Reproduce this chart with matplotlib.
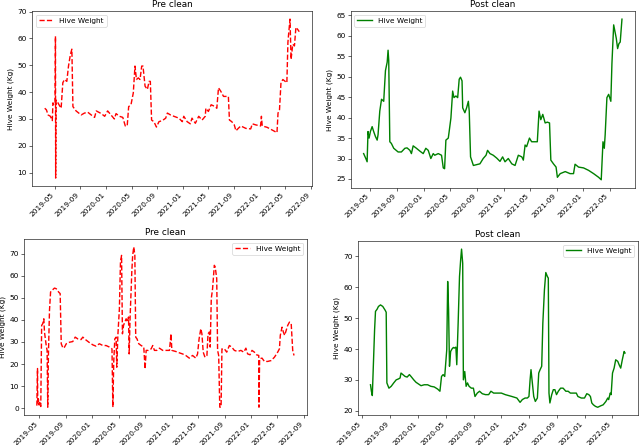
import pandas as pd
import matplotlib
matplotlib.use('Agg')
from matplotlib import pyplot as plt
import matplotlib.dates as mdates

# top row, before cleaning
pre_top_dates = ['2019-03-15', '2019-03-23', '2019-03-31', '2019-04-11', '2019-04-20', '2019-04-23', '2019-04-28',
                 '2019-05-03', '2019-05-05', '2019-05-06', '2019-05-08', '2019-05-17', '2019-05-24', '2019-06-01',
                 '2019-06-09', '2019-06-17', '2019-06-28', '2019-07-06', '2019-07-15', '2019-07-22', '2019-07-27',
                 '2019-08-11', '2019-09-04', '2019-09-20', '2019-10-06', '2019-10-22', '2019-11-07', '2019-11-15',
                 '2019-12-09', '2019-12-25', '2020-01-08', '2020-01-24', '2020-02-09', '2020-02-17', '2020-03-04',
                 '2020-03-20', '2020-04-01', '2020-04-10', '2020-04-17', '2020-04-28', '2020-05-09', '2020-05-17',
                 '2020-05-24', '2020-06-02', '2020-06-10', '2020-06-18', '2020-06-24', '2020-07-04', '2020-07-15',
                 '2020-07-23', '2020-07-29', '2020-08-04', '2020-08-15', '2020-08-27', '2020-09-08', '2020-09-24',
                 '2020-10-10', '2020-10-18', '2020-11-02', '2020-11-18', '2020-12-12', '2020-12-28', '2021-01-04',
                 '2021-01-20', '2021-02-04', '2021-02-12', '2021-02-28', '2021-03-16', '2021-04-01', '2021-04-16',
                 '2021-04-19', '2021-05-01', '2021-05-14', '2021-06-02', '2021-06-10', '2021-06-18', '2021-06-29',
                 '2021-07-12', '2021-07-27', '2021-08-04', '2021-08-09', '2021-08-20', '2021-09-01', '2021-09-09',
                 '2021-09-20', '2021-10-02', '2021-10-26', '2021-11-18', '2021-11-26', '2021-12-12', '2022-01-04',
                 '2022-01-08', '2022-01-12', '2022-02-04', '2022-02-28', '2022-03-23', '2022-03-28', '2022-04-04',
                 '2022-04-11', '2022-04-20', '2022-05-01', '2022-05-09', '2022-05-14', '2022-05-18', '2022-05-24',
                 '2022-05-29', '2022-06-06', '2022-06-14', '2022-06-21', '2022-06-28', '2022-07-07']
pre_top_kg = [34.0, 33.4, 31.5, 31.0, 29.4, 36.0, 35.3, 36.0, 60.8, 8.0, 37.0, 36.0, 35.0, 34.0, 43.5, 44.7, 44.0,
              49.7, 54.0, 56.0, 34.6, 33.0, 31.5, 32.2, 32.5, 31.5, 30.6, 33.0, 32.0, 31.0, 33.0, 31.5, 30.0, 32.0,
              31.0, 30.6, 27.4, 27.4, 34.6, 35.3, 39.7, 49.7, 44.7, 45.3, 44.7, 49.7, 49.7, 42.2, 41.0, 44.0, 44.0,
              29.6, 29.0, 27.0, 29.0, 29.4, 30.3, 32.2, 31.5, 31.0, 30.3, 29.0, 31.0, 29.0, 28.2, 30.3, 28.4, 31.0,
              29.6, 31.0, 34.0, 32.8, 35.3, 34.6, 34.0, 41.6, 40.3, 38.4, 38.4, 38.4, 29.6, 29.0, 27.8, 25.6, 26.5,
              27.4, 26.5, 26.3, 28.2, 27.8, 27.4, 31.0, 27.4, 26.9, 25.9, 24.9, 32.2, 33.4, 43.5, 44.7, 44.0, 43.5,
              58.5, 62.2, 67.2, 52.2, 57.8, 57.2, 64.1, 63.5, 62.5]

# top row, after cleaning
post_top_dates = ['2019-03-31', '2019-04-10', '2019-04-16', '2019-04-20', '2019-04-25', '2019-05-01', '2019-05-09',
                  '2019-05-16', '2019-05-24', '2019-06-01', '2019-06-05', '2019-06-13', '2019-06-21', '2019-07-01',
                  '2019-07-09', '2019-07-17', '2019-07-21', '2019-07-24', '2019-07-29', '2019-08-05', '2019-08-16',
                  '2019-09-05', '2019-09-20', '2019-10-06', '2019-10-16', '2019-10-29', '2019-11-05', '2019-11-13',
                  '2019-11-28', '2019-12-14', '2019-12-29', '2020-01-10', '2020-01-21', '2020-02-02', '2020-02-13',
                  '2020-02-20', '2020-03-07', '2020-03-22', '2020-03-30', '2020-04-05', '2020-04-11', '2020-04-22',
                  '2020-04-26', '2020-05-04', '2020-05-12', '2020-05-18', '2020-05-27', '2020-06-04', '2020-06-11',
                  '2020-06-17', '2020-06-24', '2020-06-27', '2020-07-07', '2020-07-15', '2020-07-23', '2020-07-27',
                  '2020-08-02', '2020-08-15', '2020-08-30', '2020-09-14', '2020-09-29', '2020-10-12', '2020-10-19',
                  '2020-10-30', '2020-11-14', '2020-11-30', '2020-12-15', '2020-12-27', '2021-01-07', '2021-01-22',
                  '2021-02-07', '2021-02-22', '2021-03-09', '2021-03-25', '2021-04-01', '2021-04-09', '2021-04-16',
                  '2021-04-29', '2021-05-09', '2021-05-25', '2021-06-04', '2021-06-12', '2021-06-20', '2021-06-29',
                  '2021-07-10', '2021-07-20', '2021-07-30', '2021-08-05', '2021-08-17', '2021-08-29', '2021-09-04',
                  '2021-09-17', '2021-10-10', '2021-11-01', '2021-11-17', '2021-11-24', '2021-12-10', '2022-01-02',
                  '2022-01-25', '2022-02-17', '2022-03-12', '2022-03-24', '2022-04-01', '2022-04-07', '2022-04-11',
                  '2022-04-19', '2022-04-27', '2022-05-07', '2022-05-12', '2022-05-20', '2022-06-01', '2022-06-07',
                  '2022-06-13', '2022-06-19', '2022-06-27']
post_top_kg = [31.2, 30.0, 29.2, 36.6, 35.0, 36.6, 37.8, 36.6, 35.4, 34.5, 35.8, 41.6, 44.5, 44.0, 51.5, 53.6, 56.5,
               54.0, 34.1, 33.7, 32.5, 31.6, 31.6, 32.5, 32.6, 32.0, 31.2, 33.1, 32.5, 31.8, 31.2, 32.5, 32.0, 30.0,
               31.2, 30.8, 31.2, 30.8, 27.7, 27.5, 34.5, 35.0, 36.6, 39.9, 46.5, 44.9, 45.3, 44.9, 49.4, 49.9, 49.0,
               42.4, 41.2, 42.4, 44.0, 41.6, 30.4, 28.3, 28.5, 28.7, 30.0, 30.8, 32.0, 31.2, 30.8, 30.1, 29.3, 30.4,
               29.2, 30.0, 28.7, 28.3, 30.8, 30.4, 29.6, 33.3, 32.9, 35.0, 34.1, 34.1, 34.1, 41.6, 39.5, 40.8, 38.7,
               38.9, 38.7, 29.6, 28.7, 27.9, 25.4, 26.3, 26.8, 26.3, 26.3, 28.6, 27.9, 27.7, 27.1, 26.3, 25.4, 24.8,
               34.1, 32.5, 35.8, 44.9, 45.7, 44.0, 53.2, 62.7, 59.4, 56.9, 58.1, 58.5, 64.1]

# bottom row, before cleaning
pre_bot_dates = ['2019-04-22', '2019-04-25', '2019-04-26', '2019-04-29', '2019-05-02', '2019-05-05', '2019-05-10',
                 '2019-05-14', '2019-05-19', '2019-05-24', '2019-05-27', '2019-06-04', '2019-06-08', '2019-06-11',
                 '2019-06-14', '2019-06-19', '2019-06-24', '2019-07-01', '2019-07-12', '2019-07-20', '2019-07-31',
                 '2019-08-07', '2019-08-12', '2019-08-20', '2019-08-27', '2019-09-04', '2019-09-19', '2019-10-04',
                 '2019-10-15', '2019-10-27', '2019-11-11', '2019-11-19', '2019-12-01', '2019-12-17', '2020-01-04',
                 '2020-01-19', '2020-02-03', '2020-02-19', '2020-03-05', '2020-03-20', '2020-04-01', '2020-04-05',
                 '2020-04-09', '2020-04-14', '2020-04-20', '2020-04-23', '2020-04-28', '2020-05-05', '2020-05-10',
                 '2020-05-15', '2020-05-19', '2020-05-24', '2020-05-30', '2020-06-05', '2020-06-11', '2020-06-16',
                 '2020-06-19', '2020-06-23', '2020-07-01', '2020-07-05', '2020-07-10', '2020-07-15', '2020-07-19',
                 '2020-07-25', '2020-08-02', '2020-08-13', '2020-08-25', '2020-08-31', '2020-09-05', '2020-09-15',
                 '2020-09-28', '2020-10-05', '2020-10-13', '2020-10-24', '2020-11-05', '2020-11-20', '2020-12-05',
                 '2020-12-21', '2020-12-28', '2021-01-01', '2021-01-19', '2021-02-04', '2021-02-19', '2021-03-06',
                 '2021-03-22', '2021-04-06', '2021-04-21', '2021-04-29', '2021-05-06', '2021-05-14', '2021-05-19',
                 '2021-05-25', '2021-06-02', '2021-06-11', '2021-06-16', '2021-06-22', '2021-06-26', '2021-07-01',
                 '2021-07-07', '2021-07-15', '2021-07-19', '2021-07-26', '2021-07-30', '2021-08-04', '2021-08-09',
                 '2021-08-15', '2021-08-19', '2021-08-30', '2021-09-10', '2021-09-22', '2021-10-03', '2021-10-15',
                 '2021-10-30', '2021-11-14', '2021-11-27', '2021-12-07', '2021-12-15', '2021-12-26', '2022-01-04',
                 '2022-01-15', '2022-01-25', '2022-02-04', '2022-02-05', '2022-02-08', '2022-02-19', '2022-03-02',
                 '2022-03-17', '2022-04-02', '2022-04-17', '2022-05-02', '2022-05-10', '2022-05-14', '2022-05-22',
                 '2022-05-28', '2022-06-03', '2022-06-10', '2022-06-17', '2022-06-25', '2022-07-03', '2022-07-10',
                 '2022-07-16']
pre_bot_kg = [1.2, 18.0, 2.0, 4.2, 1.5, 2.7, 0.8, 37.5, 38.3, 40.5, 34.5, 28.4, 26.2, 0.5, 23.9, 44.3, 52.6, 53.4,
              54.4, 54.1, 52.6, 51.9, 29.2, 27.2, 27.7, 29.2, 29.9, 30.2, 32.2, 31.4, 31.1, 32.2, 31.1, 29.9, 28.7,
              28.1, 29.2, 28.4, 28.4, 27.7, 26.9, 0.5, 20.9, 31.4, 32.2, 18.6, 33.0, 45.0, 66.2, 69.2, 33.7, 37.5,
              39.0, 40.5, 39.0, 41.3, 24.6, 40.5, 61.7, 69.2, 73.0, 69.2, 32.2, 31.4, 29.2, 28.4, 27.7, 17.8, 26.2,
              26.2, 26.9, 28.4, 26.2, 26.2, 27.2, 26.2, 26.2, 26.2, 33.7, 26.2, 25.7, 25.1, 24.6, 23.9, 22.7, 23.9,
              22.7, 24.6, 31.4, 36.0, 33.7, 25.4, 23.1, 23.9, 33.7, 34.5, 27.7, 49.6, 54.1, 64.7, 64.0, 58.7, 26.2,
              23.9, 0.5, 0.5, 26.9, 26.9, 25.4, 28.4, 27.7, 26.2, 25.7, 26.2, 25.4, 27.2, 24.6, 24.2, 26.2, 25.4,
              24.2, 23.9, 0.5, 22.4, 22.7, 21.2, 21.2, 21.6, 23.1, 25.4, 26.9, 33.0, 36.7, 34.5, 33.0, 35.2, 37.5,
              39.0, 38.3, 26.2, 23.9]

# bottom row, after cleaning
post_bot_dates = ['2019-06-06', '2019-06-10', '2019-06-14', '2019-06-19', '2019-06-24', '2019-06-28', '2019-07-05',
                  '2019-07-11', '2019-07-20', '2019-07-30', '2019-08-10', '2019-08-14', '2019-08-17', '2019-08-26',
                  '2019-09-05', '2019-09-16', '2019-09-27', '2019-10-07', '2019-10-14', '2019-10-18', '2019-10-26',
                  '2019-11-05', '2019-11-14', '2019-11-24', '2019-12-01', '2019-12-13', '2019-12-23', '2020-01-02',
                  '2020-01-14', '2020-01-28', '2020-02-12', '2020-02-26', '2020-03-12', '2020-03-27', '2020-04-06',
                  '2020-04-13', '2020-04-20', '2020-04-27', '2020-05-06', '2020-05-10', '2020-05-14', '2020-05-18',
                  '2020-05-23', '2020-05-29', '2020-06-04', '2020-06-08', '2020-06-15', '2020-06-19', '2020-06-25',
                  '2020-07-01', '2020-07-06', '2020-07-10', '2020-07-15', '2020-07-18', '2020-07-24', '2020-07-30',
                  '2020-08-05', '2020-08-12', '2020-08-22', '2020-08-31', '2020-09-07', '2020-09-17', '2020-09-27',
                  '2020-10-09', '2020-10-23', '2020-11-06', '2020-11-16', '2020-11-28', '2020-12-12', '2021-01-01',
                  '2021-01-18', '2021-02-02', '2021-02-16', '2021-03-10', '2021-03-24', '2021-04-03', '2021-04-15',
                  '2021-04-25', '2021-05-02', '2021-05-07', '2021-05-11', '2021-05-17', '2021-05-23', '2021-05-30',
                  '2021-06-08', '2021-06-14', '2021-06-20', '2021-06-27', '2021-07-02', '2021-07-09', '2021-07-15',
                  '2021-07-22', '2021-07-26', '2021-07-29', '2021-08-02', '2021-08-10', '2021-08-17', '2021-08-24',
                  '2021-08-31', '2021-09-08', '2021-09-18', '2021-09-29', '2021-10-11', '2021-10-21', '2021-10-31',
                  '2021-11-12', '2021-11-26', '2021-12-03', '2021-12-18', '2022-01-01', '2022-01-11', '2022-01-20',
                  '2022-01-27', '2022-02-02', '2022-02-09', '2022-02-18', '2022-02-28', '2022-03-14', '2022-03-24',
                  '2022-04-05', '2022-04-13', '2022-04-17', '2022-04-24', '2022-04-28', '2022-05-04', '2022-05-11',
                  '2022-05-18', '2022-05-27', '2022-06-02', '2022-06-09', '2022-06-16', '2022-06-24', '2022-06-28']
post_bot_kg = [28.4, 26.3, 24.9, 35.4, 46.2, 52.2, 52.9, 53.8, 54.3, 53.8, 52.5, 51.9, 29.0, 27.3, 27.9, 29.0, 30.0,
               30.3, 30.6, 32.2, 31.7, 31.1, 30.9, 31.7, 31.1, 30.0, 29.2, 28.7, 28.1, 28.4, 28.4, 27.9, 27.7, 27.0,
               26.3, 31.1, 31.7, 31.1, 39.8, 61.9, 52.7, 34.4, 39.2, 40.0, 40.5, 40.3, 40.6, 34.9, 48.4, 63.5, 68.9,
               72.4, 67.8, 30.0, 32.7, 27.9, 29.0, 27.9, 27.3, 27.3, 24.6, 25.7, 26.3, 25.5, 25.2, 25.2, 26.3, 25.7,
               25.7, 25.7, 25.2, 24.9, 24.6, 24.1, 22.7, 23.6, 24.1, 24.1, 24.6, 30.0, 33.3, 29.0, 24.6, 23.0, 24.1,
               32.2, 33.3, 34.4, 48.4, 59.2, 64.8, 63.5, 63.0, 25.7, 22.5, 25.2, 26.8, 26.8, 25.2, 26.3, 27.3, 27.3,
               26.3, 26.3, 25.7, 25.7, 25.7, 24.6, 24.1, 24.1, 25.5, 25.2, 24.6, 22.5, 21.9, 21.4, 21.1, 21.6, 21.9,
               23.0, 24.1, 23.6, 25.7, 25.2, 32.2, 33.8, 36.5, 36.0, 34.9, 33.8, 36.5, 39.2, 38.7]


def draw(ax, dates, kg, style, title, loc):
    ax.plot(pd.to_datetime(dates), kg, style, lw=1.9, label='Hive Weight')
    ax.set_title(title)
    ax.set_ylabel('Hive Weight (Kg)')
    ax.legend(loc=loc)
    ax.xaxis.set_major_locator(mdates.MonthLocator(bymonth=[1, 5, 9]))
    ax.xaxis.set_major_formatter(mdates.DateFormatter('%Y-%m'))
    plt.setp(ax.get_xticklabels(), rotation=45, ha='right')


# big figure saved at low dpi, so default font sizes come out small
fig = plt.figure(figsize=(640 / 53, 445 / 53))
ax1 = fig.add_axes([0.050, 0.582, 0.4375, 0.393])
ax2 = fig.add_axes([0.548, 0.578, 0.444, 0.397])
ax3 = fig.add_axes([0.0375, 0.067, 0.442, 0.396])
ax4 = fig.add_axes([0.559, 0.067, 0.4375, 0.391])

draw(ax1, pre_top_dates, pre_top_kg, 'r--', 'Pre clean', 'upper left')
draw(ax2, post_top_dates, post_top_kg, 'g-', 'Post clean', 'upper left')
draw(ax3, pre_bot_dates, pre_bot_kg, 'r--', 'Pre clean', 'upper right')
draw(ax4, post_bot_dates, post_bot_kg, 'g-', 'Post clean', 'upper right')

fig.savefig('out.png', dpi=53)
